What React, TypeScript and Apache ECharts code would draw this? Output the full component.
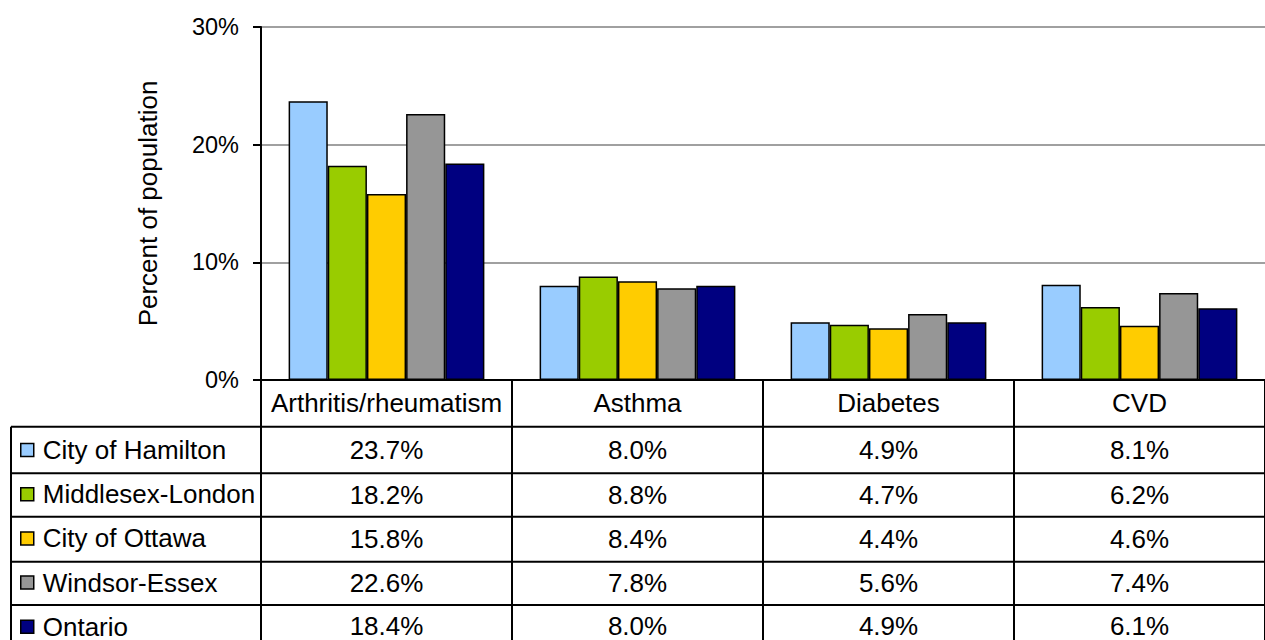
import React, { useEffect, useRef } from "react";
import * as echarts from "echarts";

const categories = ["Arthritis/rheumatism", "Asthma", "Diabetes", "CVD"];
const seriesNames = ["City of Hamilton", "Middlesex-London", "City of Ottawa", "Windsor-Essex", "Ontario"];
const hamilton = [23.7, 8.0, 4.9, 8.1];
const middlesex = [18.2, 8.8, 4.7, 6.2];
const ottawa = [15.8, 8.4, 4.4, 4.6];
const windsor = [22.6, 7.8, 5.6, 7.4];
const ontario = [18.4, 8.0, 4.9, 6.1];
const seriesValues = [hamilton, middlesex, ottawa, windsor, ontario];
const yTickMin = 0;
const yTickMax = 30;
const yTickStep = 10;
const yAxisTitle = "Percent of population";
const colors = ["#99CCFF", "#99CC00", "#FFCC00", "#969696", "#000080"];

// layout constants (pixels)
const FONT = "'Liberation Sans', Arial, Helvetica, sans-serif";
const GRID_LEFT = 261;
const GRID_TOP = 27;
const GRID_BOTTOM_Y = 380;
const PAGE_W = 1265;
const BOX_H = 700; // taller than the page; the page shows the top 640px
const TABLE_LEFT = 11;
const rowLines = [426.7, 473.3, 516.7, 561.7, 605, 650];
const rowLabelOffsets = [57, 102, 146, 190, 233];

export default function App() {
  const ref = useRef<HTMLDivElement>(null);
  useEffect(() => {
    if (!ref.current) return;
    const chart = echarts.init(ref.current, undefined, { renderer: "svg" });

    const valueAxes = seriesValues.map((vals, k) => ({
      type: "category",
      data: categories,
      gridIndex: 0,
      position: "bottom",
      offset: rowLabelOffsets[k],
      axisLine: { show: false },
      axisTick: { show: false },
      splitLine: { show: false },
      axisLabel: {
        interval: 0,
        margin: 0,
        fontSize: 26,
        fontFamily: FONT,
        color: "#000",
        formatter: (_v: string, i: number) => vals[i].toFixed(1) + "%",
      },
    }));

    const graphics: any[] = [];
    rowLines.forEach((y) => {
      graphics.push({
        type: "line",
        shape: { x1: TABLE_LEFT, y1: y, x2: PAGE_W, y2: y },
        style: { stroke: "#000", lineWidth: 2 },
        silent: true,
      });
    });
    graphics.push({
      type: "line",
      shape: { x1: TABLE_LEFT, y1: rowLines[0], x2: TABLE_LEFT, y2: rowLines[rowLines.length - 1] },
      style: { stroke: "#000", lineWidth: 2 },
      silent: true,
    });

    chart.setOption({
      animation: false,
      backgroundColor: "#fff",
      textStyle: { fontFamily: FONT },
      grid: {
        left: GRID_LEFT,
        top: GRID_TOP,
        right: -10,
        bottom: BOX_H - GRID_BOTTOM_Y,
        containLabel: false,
      },
      legend: {
        orient: "vertical",
        left: 20,
        top: 437,
        padding: 0,
        itemWidth: 13,
        itemHeight: 13,
        itemGap: 18.2,
        icon: "rect",
        selectedMode: false,
        data: seriesNames,
        itemStyle: { borderColor: "#000", borderWidth: 1.5 },
        textStyle: {
          fontSize: 26,
          lineHeight: 26,
          color: "#000",
          fontFamily: FONT,
          padding: [0, 0, 0, 4],
        },
      },
      xAxis: [
        {
          type: "category",
          data: categories,
          gridIndex: 0,
          position: "bottom",
          axisLine: { show: true, lineStyle: { color: "#000", width: 2 } },
          axisTick: {
            show: true,
            alignWithLabel: false,
            interval: 0,
            length: rowLines[rowLines.length - 1] - GRID_BOTTOM_Y,
            lineStyle: { color: "#000", width: 2 },
          },
          axisLabel: {
            interval: 0,
            margin: 10,
            fontSize: 26,
            fontFamily: FONT,
            color: "#000",
          },
          splitLine: { show: false },
        },
        ...valueAxes,
      ],
      yAxis: {
        type: "value",
        min: yTickMin,
        max: yTickMax,
        interval: yTickStep,
        name: yAxisTitle,
        nameLocation: "middle",
        nameGap: 100,
        nameTextStyle: { fontSize: 26, color: "#000", fontFamily: FONT },
        axisLine: { show: true, lineStyle: { color: "#000", width: 2 } },
        axisTick: { show: true, length: 8, lineStyle: { color: "#000", width: 2 } },
        axisLabel: {
          margin: 22,
          fontSize: 23.5,
          fontFamily: FONT,
          color: "#000",
          formatter: "{value}%",
        },
        splitLine: { show: true, lineStyle: { color: "#a0a0a0", width: 2 } },
      },
      series: seriesNames.map((name, k) => ({
        name,
        type: "bar",
        xAxisIndex: 0,
        data: seriesValues[k],
        barGap: "0%",
        barCategoryGap: "22%",
        itemStyle: { color: colors[k], borderColor: "#000", borderWidth: 1.5 },
        emphasis: { disabled: true },
      })),
      graphic: graphics,
    });

    return () => chart.dispose();
  }, []);

  return (
    <div
      ref={ref}
      style={{ position: "fixed", left: 0, top: 0, width: PAGE_W, height: BOX_H }}
    />
  );
}
